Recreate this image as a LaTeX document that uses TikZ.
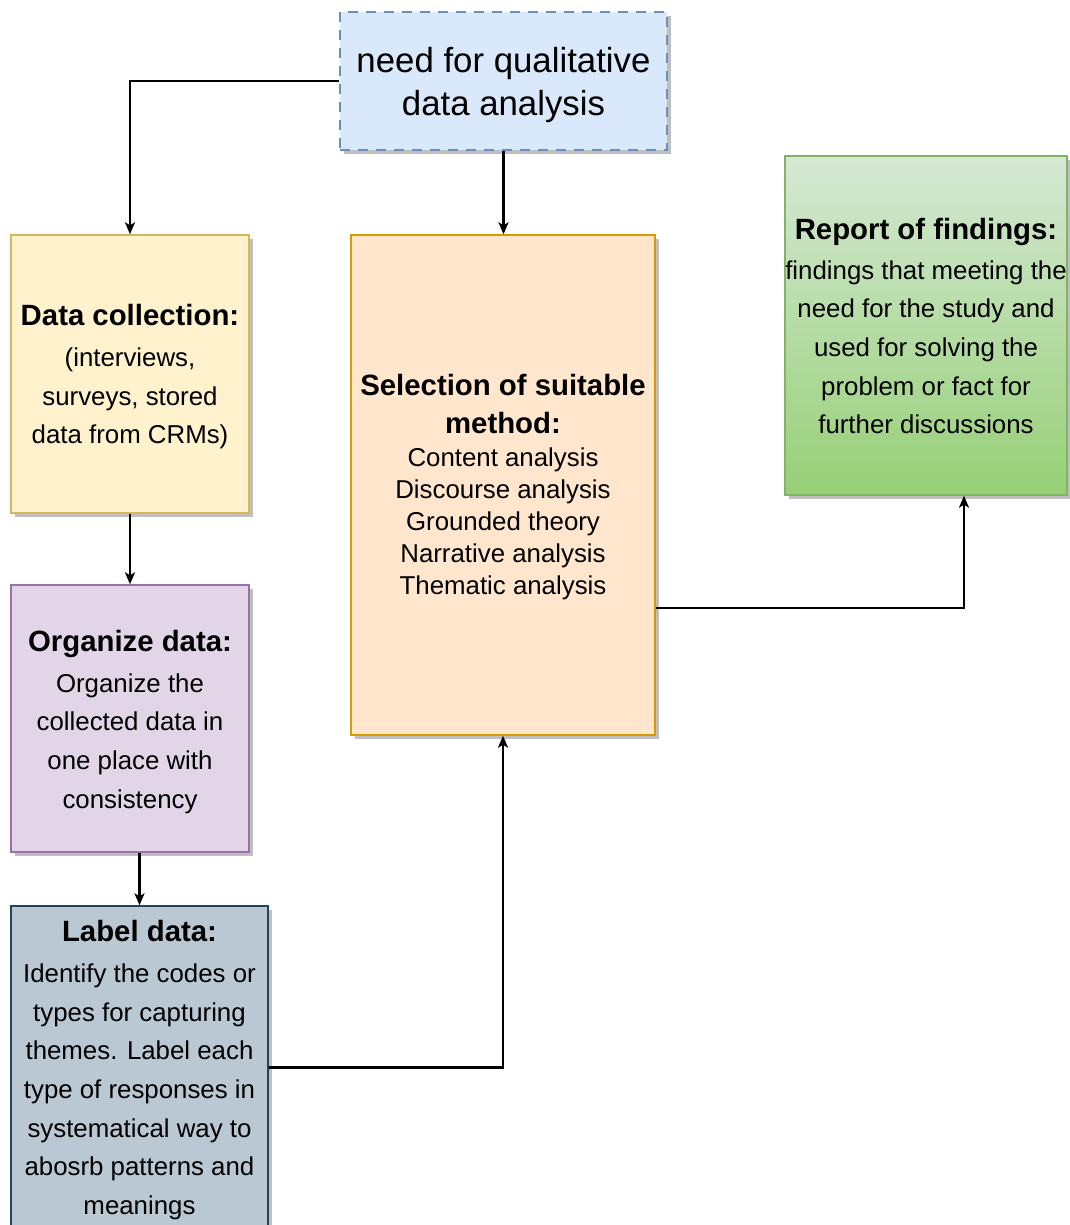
\documentclass[tikz,border=0pt]{standalone}
\usepackage{fontspec}
\setmainfont{Liberation Sans}
\usetikzlibrary{arrows.meta,shadows}

\definecolor{needfill}{HTML}{DAE8FC}
\definecolor{needline}{HTML}{6C8EBF}
\definecolor{collfill}{HTML}{FFF2CC}
\definecolor{collline}{HTML}{D6B656}
\definecolor{orgfill}{HTML}{E1D5E7}
\definecolor{orgline}{HTML}{9673A6}
\definecolor{labfill}{HTML}{BAC8D3}
\definecolor{labline}{HTML}{23445D}
\definecolor{selfill}{HTML}{FFE6CC}
\definecolor{selline}{HTML}{D79B00}
\definecolor{reptop}{HTML}{D5E8D4}
\definecolor{repbot}{HTML}{97D077}
\definecolor{repline}{HTML}{82B366}

\newcommand{\boxtitle}{\bfseries\fontsize{16.7}{22}\selectfont}
\newcommand{\toplift}[1]{\rule{0pt}{#1}}

\begin{document}
\begin{tikzpicture}[
    every node/.style={draw, rectangle, inner sep=0pt, align=center,
      font=\fontsize{14.7}{22}\selectfont, line width=0.8pt,
      drop shadow={shadow xshift=0.07cm, shadow yshift=-0.07cm, fill=black!25, opacity=1}},
    >={Stealth[length=0.24cm, width=0.2cm, inset=0.06cm]}, line width=1.2pt
    ]
    \useasboundingbox (0,0) rectangle (21.38,-24.5);

    % Define nodes
    \node (need) [fill=needfill, draw=needline, line width=1.6pt, dash pattern=on 0.2cm off 0.16cm,
      minimum width=6.54cm, minimum height=2.76cm, font=\fontsize{19.8}{24.4}\selectfont]
      at (10.07, -1.62) {\toplift{19pt}need for qualitative\\data analysis};
    \node (collect) [fill=collfill, draw=collline, minimum width=4.76cm, minimum height=5.56cm]
      at (2.6, -7.48) {{\boxtitle\toplift{15.4pt}Data collection:}\\[1.2pt](interviews,\\surveys, stored\\data from CRMs)};
    \node (organize) [fill=orgfill, draw=orgline, minimum width=4.76cm, minimum height=5.34cm]
      at (2.6, -14.37) {{\boxtitle\toplift{15.8pt}Organize data:}\\[1.2pt]Organize the\\collected data in\\one place with\\consistency};
    \node (labeling) [fill=labfill, draw=labline, minimum width=5.14cm, minimum height=6.46cm]
      at (2.79, -21.35) {{\boxtitle\toplift{15.2pt}Label data:}\\[1.2pt]Identify the codes or\\types for capturing\\themes. Label each\\type of responses in\\systematical way to\\abosrb patterns and\\meanings};
    \node (method) [fill=selfill, draw=selline, minimum width=6.08cm, minimum height=10cm]
      at (10.06, -9.7) {{\boxtitle\toplift{14pt}Selection of suitable}\\{\boxtitle method:}\\[-3.3pt]Content analysis\\[-3.9pt]Discourse analysis\\[-3.9pt]Grounded theory\\[-3.9pt]Narrative analysis\\[-3.9pt]Thematic analysis};
    \node (report) [top color=reptop, bottom color=repbot, draw=repline, minimum width=5.64cm, minimum height=6.78cm]
      at (18.52, -6.51) {{\boxtitle\toplift{12.8pt}Report of findings:}\\[0.6pt]findings that meeting the\\need for the study and\\used for solving the\\problem or fact for\\further discussions};

    % Draw directed edges
    \draw[->] (need.west) -| (collect.north);
    \draw[->] (need.south) -- (need.south |- method.north);
    \draw[->] (collect.south) -- (organize.north);
    \draw[->] (labeling.north |- organize.south) -- (labeling.north);
    \draw[->] (labeling.east) -| (method.south);
    \draw[->] ([yshift=-2.46cm]method.east) -| ([xshift=0.76cm]report.south);

\end{tikzpicture}
\end{document}
